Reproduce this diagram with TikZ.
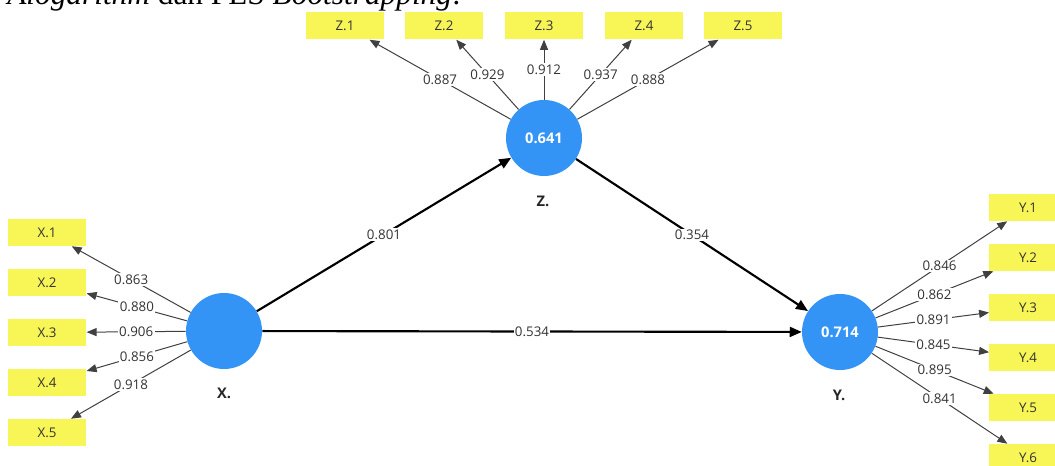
\documentclass[tikz,border=0pt]{standalone}
\usepackage{fontspec}
\setmainfont{Open Sans}
\newfontfamily\serifdoc{Liberation Serif}
\usetikzlibrary{arrows.meta}
\definecolor{lvblue}{RGB}{51,148,245}
\definecolor{indyellow}{RGB}{248,245,86}
\definecolor{txtgray}{RGB}{51,51,51}
\begin{document}
\begin{tikzpicture}[x=0.75pt,y=-0.75pt,
  latent/.style={circle, fill=lvblue, minimum size=57pt, inner sep=0pt, text=white, font=\bfseries\fontsize{11}{13}\selectfont},
  indicator/.style={rectangle, fill=indyellow, minimum width=58pt, minimum height=20.25pt, inner sep=0pt, text=txtgray, font=\fontsize{10}{12}\selectfont},
  lvname/.style={font=\bfseries\fontsize{11}{13}\selectfont, text=black!85},
  outer/.style={draw=black!75, line width=0.75pt, -{Triangle[length=7.5pt,width=6pt]}},
  inner/.style={draw=black, line width=1.6pt, -{Triangle[length=9pt,width=7.5pt]}},
  loadlbl/.style={fill=white, inner sep=1pt, text=txtgray, font=\fontsize{10}{12}\selectfont}]
\useasboundingbox (0,0) rectangle (1055,466);
\node[anchor=base west, inner sep=0pt, font=\serifdoc\fontsize{23.5}{28}\selectfont] (title) at (7,5) {\textit{Alogarithm} dan PLS \textit{Bootstrapping}:};
% latent variables
\node[latent] (X) at (224,331) {};
\node[latent] (Z) at (544,138) {0.641};
\node[latent] (Y) at (840,332) {0.714};
\node[lvname] (Xl) at (224,393) {X.};
\node[lvname] (Zl) at (543,201) {Z.};
\node[lvname] (Yl) at (839,395) {Y.};
% indicators
\foreach \i/\x in {1/345,2/444,3/544,4/644,5/743}
  \node[indicator] (Z\i) at (\x,26) {Z.\i};
\foreach \i in {1,...,5}
  \node[indicator, minimum width=59pt] (X\i) at (47,{232.5+50*(\i-1)}) {X.\i};
\foreach \i in {1,...,6}
  \node[indicator] (Y\i) at (1028,{207.5+50*(\i-1)}) {Y.\i};
% outer loadings
\foreach \i/\v in {1/0.887,2/0.929,3/0.912,4/0.937,5/0.888}
  \draw[outer] (Z) -- node[loadlbl]{\v} (Z\i);
\foreach \i/\v in {1/0.863,2/0.880,3/0.906,4/0.856,5/0.918}
  \draw[outer] (X) -- node[loadlbl]{\v} (X\i);
\foreach \i/\v in {1/0.846,2/0.862,3/0.891,4/0.845,5/0.895,6/0.841}
  \draw[outer] (Y) -- node[loadlbl]{\v} (Y\i);
% inner paths
\draw[inner] (X) -- node[loadlbl]{0.801} (Z);
\draw[inner] (Z) -- node[loadlbl]{0.354} (Y);
\draw[inner] (X) -- node[loadlbl]{0.534} (Y);
\end{tikzpicture}
\end{document}
